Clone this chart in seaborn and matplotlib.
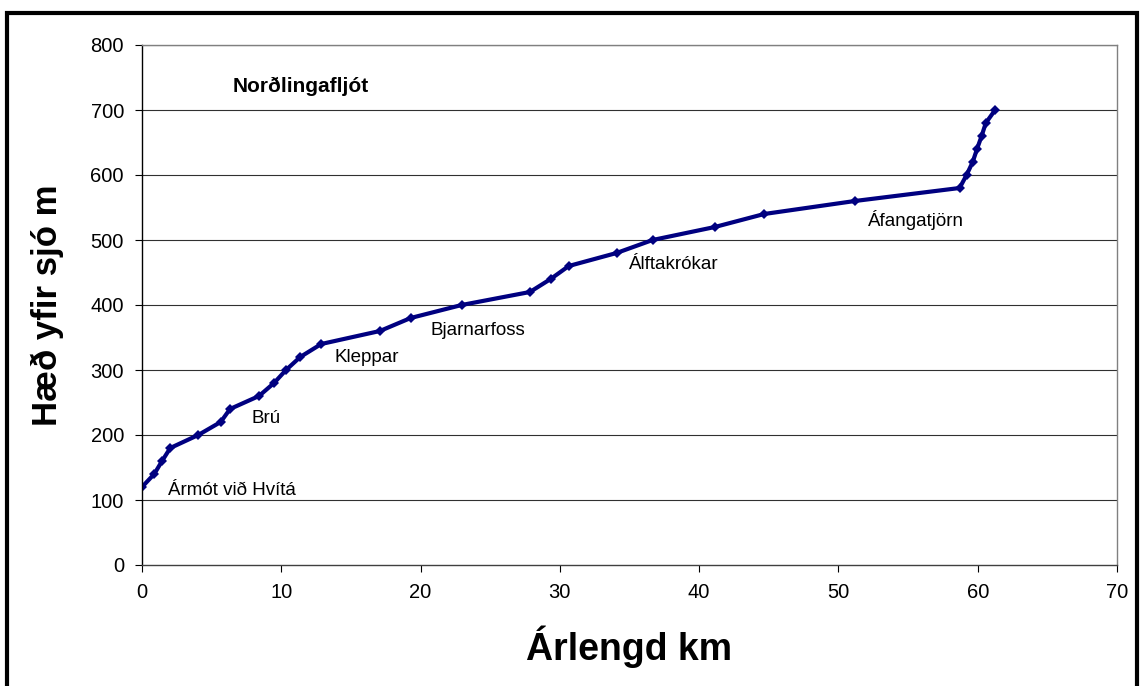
import matplotlib
matplotlib.use("Agg")
import matplotlib.pyplot as plt
import seaborn as sns
import pandas as pd
from matplotlib.patches import Rectangle

# Data
distance_km = [0.0, 0.88, 1.44, 2.03, 4.04, 5.65, 6.32, 8.4, 9.48, 10.34, 11.36, 12.87,
               17.08, 19.29, 22.95, 27.85, 29.34, 30.64, 34.07, 36.66, 41.13, 44.67,
               51.18, 58.7, 59.2, 59.64, 59.95, 60.28, 60.58, 61.25]
elevation_m = [120, 140, 160, 180, 200, 220, 240, 260, 280, 300, 320, 340,
               360, 380, 400, 420, 440, 460, 480, 500, 520, 540,
               560, 580, 600, 620, 640, 660, 680, 700]
place_names = ["Ármót við Hvítá", "Brú", "Kleppar", "Bjarnarfoss", "Álftakrókar", "Áfangatjörn"]
place_x = [6.46, 8.9, 16.1, 24.1, 38.2, 55.55]
place_y = [108, 218, 312, 354, 455, 521]
title_text = "Norðlingafljót"
x_ticks = [0, 10, 20, 30, 40, 50, 60, 70]
y_ticks = [0, 100, 200, 300, 400, 500, 600, 700, 800]

sns.set_style("white")
plt.rcParams['font.family'] = ['Liberation Sans', 'DejaVu Sans']
plt.rcParams['text.color'] = 'black'
plt.rcParams['axes.labelcolor'] = 'black'

W, H = 1142, 686
fig = plt.figure(figsize=(W / 100, H / 100), dpi=100)
ax = fig.add_axes([142 / W, 1 - 565 / H, (1117 - 142) / W, (565 - 45) / H])

df = pd.DataFrame({"km": distance_km, "m": elevation_m})
sns.lineplot(data=df, x="km", y="m", sort=False, ax=ax, color="#000080",
             linewidth=3.0, marker="D", markersize=5, markeredgewidth=0,
             markerfacecolor="#000080")

ax.set_xlim(0, 70)
ax.set_ylim(0, 800)
ax.set_xticks(x_ticks)
ax.set_yticks(y_ticks)
ax.tick_params(axis="both", which="both", direction="out", length=5, width=0.8,
               colors="black", labelsize=14.5, left=True, bottom=True)
ax.tick_params(axis="x", pad=8)
ax.tick_params(axis="y", pad=8)
ax.grid(False)
for y in y_ticks[1:]:
    ax.axhline(y, color="#303030", linewidth=0.8, zorder=0)

for s in ["top", "right"]:
    ax.spines[s].set_color("#808080")
    ax.spines[s].set_linewidth(1.0)
ax.spines["left"].set_color("black")
ax.spines["left"].set_linewidth(1.0)
ax.spines["bottom"].set_color("#404040")
ax.spines["bottom"].set_linewidth(1.0)

ax.set_xlabel("Árlengd km", fontsize=27, fontweight="bold")
ax.xaxis.label.set_va("baseline")
ax.xaxis.set_label_coords(0.5, (565 - 660) / 520)
ax.set_ylabel("Hæð yfir sjó m", fontsize=25, fontweight="bold")
ax.yaxis.label.set_va("baseline")
ax.yaxis.set_label_coords((57 - 142) / 975, 0.5)

ax.text(6.53, 728, title_text, fontsize=15, fontweight="bold", ha="left", va="baseline")
for name, x, y in zip(place_names, place_x, place_y):
    ax.text(x, y, name, fontsize=13.5, ha="center", va="baseline")

# chart area border
fig.patches.append(Rectangle((7 / W, -0.01), (1137 - 7) / W, (686 - 13) / H + 0.01,
                             transform=fig.transFigure, fill=False,
                             edgecolor="black", linewidth=3.0, zorder=10))

fig.savefig("out.png", dpi=100)
